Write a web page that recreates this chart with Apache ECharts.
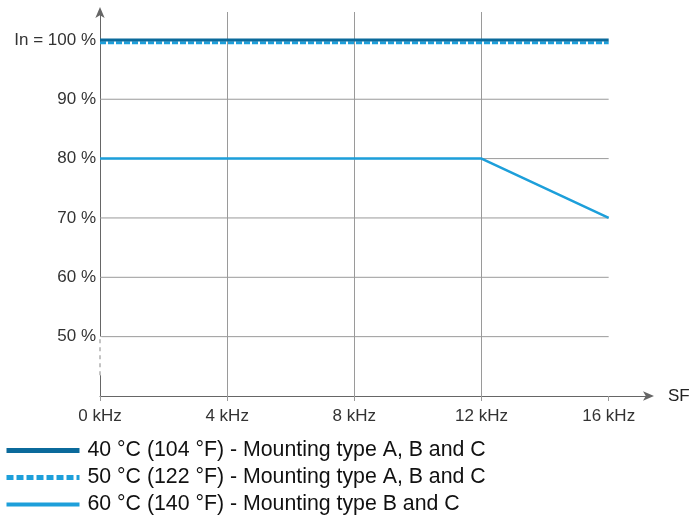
<!DOCTYPE html>
<html><head><meta charset="utf-8">
<script src="https://cdn.jsdelivr.net/npm/echarts@6/dist/echarts.min.js"></script>
<style>html,body{margin:0;padding:0;background:#fff}#c{width:689px;height:516px}</style>
</head><body><div id="c"></div>
<script>
// Data
const xTicks = [0, 4, 8, 12, 16];           // kHz
const yTicks = [50, 60, 70, 80, 90, 100];   // %
const gridYValues = [50, 60, 70, 80, 90];
const seriesNames = [
  '40 °C (104 °F) - Mounting type A, B and C',
  '50 °C (122 °F) - Mounting type A, B and C',
  '60 °C (140 °F) - Mounting type B and C'
];
const s40 = [[0, 100], [16, 100]];
const s50 = [[0, 99.5], [16, 99.5]];
const s60 = [[0, 80], [12, 80], [16, 70]];
const yAxisDashed = [[0, 43.5], [0, 50]];

const FONT = '"Liberation Sans", Arial, sans-serif';
const chart = echarts.init(document.getElementById('c'), null, {renderer: 'canvas'});

const gridSeries = gridYValues.map(v => ({
  type: 'line', silent: true, symbol: 'none', z: 1,
  data: [[xTicks[0], v], [xTicks[xTicks.length - 1], v]],
  lineStyle: {color: '#9a9a9a', width: 1}
}));

chart.setOption({
  animation: false,
  grid: {left: 100, right: 39, top: 12, bottom: 120, outerBoundsMode: 'none', containLabel: false},
  xAxis: {
    type: 'value', min: 0, max: 17.3, interval: 4,
    name: 'SF', nameLocation: 'end', nameGap: 18,
    nameTextStyle: {fontFamily: FONT, fontSize: 17, color: '#222', verticalAlign: 'middle'},
    axisLine: {show: true, symbol: ['none', 'arrow'], symbolSize: [7, 11], symbolOffset: [0, 4],
      lineStyle: {color: '#666', width: 1}},
    axisTick: {show: true, customValues: xTicks, length: 5, lineStyle: {color: '#9a9a9a'}},
    axisLabel: {customValues: xTicks, formatter: v => v + ' kHz', margin: 12,
      fontFamily: FONT, fontSize: 17, color: '#333'},
    splitLine: {show: true, showMinLine: false, showMaxLine: false, lineStyle: {color: '#9a9a9a', width: 1}}
  },
  yAxis: {
    type: 'value', min: 40, max: 104.7, interval: 10,
    axisLine: {show: true, symbol: ['none', 'arrow'], symbolSize: [7, 11], symbolOffset: [0, 5],
      lineStyle: {color: '#666', width: 1}},
    axisTick: {show: false},
    axisLabel: {customValues: yTicks, margin: 4, fontFamily: FONT, fontSize: 17, color: '#333',
      formatter: v => v === 100 ? 'In = 100 %' : v + ' %'},
    splitLine: {show: false}
  },
  legend: {
    orient: 'vertical', left: 4, top: 440, padding: 0, itemWidth: 73, itemHeight: 6, itemGap: 6,
    itemStyle: {opacity: 0},
    textStyle: {fontFamily: FONT, fontSize: 21.3, color: '#111', padding: [0, 0, 0, 3]},
    data: [
      {name: seriesNames[0], lineStyle: {width: 5}},
      {name: seriesNames[1], lineStyle: {width: 5, type: [7, 3]}},
      {name: seriesNames[2], lineStyle: {width: 4}}
    ]
  },
  series: [
    ...gridSeries,
    {type: 'line', silent: true, symbol: 'none', z: 3, data: yAxisDashed,
      lineStyle: {color: '#fff', width: 3}},
    {type: 'line', silent: true, symbol: 'none', z: 4, data: yAxisDashed,
      lineStyle: {color: '#888', width: 1, type: [4, 4]}},
    {name: seriesNames[0], type: 'line', symbol: 'none', z: 6, data: s40,
      lineStyle: {color: '#0b6a9b', width: 3}, itemStyle: {color: '#0b6a9b'}},
    {name: seriesNames[1], type: 'line', symbol: 'none', z: 5, data: s50,
      lineStyle: {color: '#1d9fda', width: 3, type: [6, 2]}, itemStyle: {color: '#1d9fda'}},
    {name: seriesNames[2], type: 'line', symbol: 'none', z: 5, data: s60,
      lineStyle: {color: '#1d9fda', width: 2.5}, itemStyle: {color: '#1d9fda'}}
  ]
});
</script></body></html>
